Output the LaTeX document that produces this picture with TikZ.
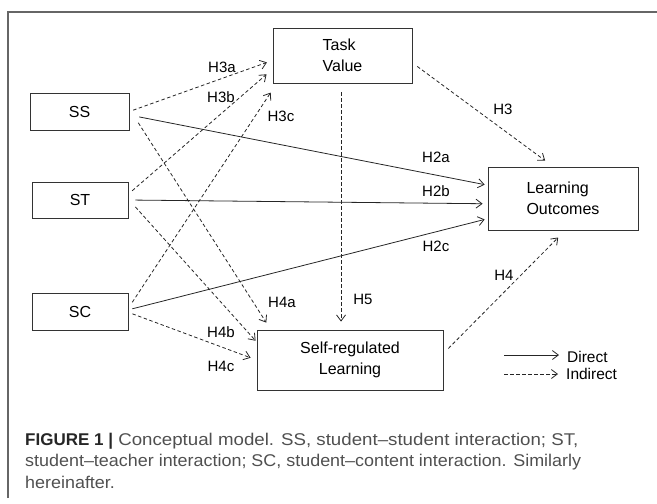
\documentclass[tikz,border=0pt]{standalone}
\usepackage{fontspec}
\setmainfont{Liberation Sans}
\newfontfamily\capfont[FakeStretch=1.1]{Liberation Sans}
\newfontfamily\capfontn[FakeStretch=1.055]{Liberation Sans}
\usetikzlibrary{arrows.meta}
\definecolor{capgray}{HTML}{505050}
\tikzset{
  blk/.style={draw=black!80, line width=0.8pt, fill=white, inner sep=0pt, font=\fontsize{16}{21}\selectfont},
  dir/.style={draw=black!85, line width=0.8pt, -{Straight Barb[length=6pt,width=9pt]}},
  ind/.style={dir, dash pattern=on 3.5pt off 2.5pt},
  hyp/.style={inner sep=0pt, font=\fontsize{15}{18}\selectfont},
}
\begin{document}
\begin{tikzpicture}[x=1pt, y=-1pt]
  \useasboundingbox (0,0) rectangle (657,504);
  % Frame:
  \draw[black!60, line width=1.2pt] (8,498) -- (8,12) -- (657,12);
  % Blocks:
  \node[blk, minimum width=99pt, minimum height=37pt] (ss) at (79.5,111.5) {SS};
  \node[blk, minimum width=96pt, minimum height=36pt] (st) at (80,200) {ST};
  \node[blk, minimum width=96pt, minimum height=37pt] (sc) at (80,311.5) {SC};
  \node[blk, minimum width=139pt, minimum height=55pt, align=left] (tv) at (342.5,55.5) {Task\\Value};
  \node[blk, minimum width=150pt, minimum height=63pt, align=left] (lo) at (563,198.5) {Learning\\Outcomes};
  \node[blk, minimum width=186pt, minimum height=60pt, align=center] (srl) at (350,360) {Self-regulated\\Learning};
  % Direct paths:
  \draw[dir, shorten <=10pt, shorten >=3pt] (ss.-4) -- (lo.170);
  \draw[dir, shorten <=7pt, shorten >=5pt] (st.east) -- (lo.184);
  \draw[dir, shorten <=4pt, shorten >=3pt] (sc.2) -- (lo.195);
  % Indirect paths:
  \draw[ind, shorten <=4pt, shorten >=6pt] (ss.east) -- (tv.184);
  \draw[ind, shorten <=5pt, shorten >=8pt] (st.7) -- (tv.191);
  \draw[ind, shorten <=7pt, shorten >=11pt] (sc.4) -- (tv.203);
  \draw[ind, shorten <=16.5pt, shorten >=8.3pt] (ss.3) -- (srl.159);
  \draw[ind, shorten <=10.5pt, shorten >=1.5pt] (st.1) -- (srl.169);
  \draw[ind, shorten <=4.3pt, shorten >=6.4pt] (sc.-1) -- (srl.west);
  \draw[ind, shorten <=6pt, shorten >=10pt] (tv.-6) -- (lo.107);
  \draw[ind, shorten <=9pt, shorten >=8pt] (tv.267) -- (tv.267 |- srl.north);
  \draw[ind, shorten <=7pt, shorten >=10pt] (srl.4) -- (lo.274);
  % Labels:
  \node[hyp] (h3a) at (222,67) {H3a};
  \node[hyp] (h3b) at (221,97) {H3b};
  \node[hyp] (h3c) at (281,116) {H3c};
  \node[hyp] (h3) at (503,109) {H3};
  \node[hyp] (h2a) at (436,157) {H2a};
  \node[hyp] (h2b) at (436,191) {H2b};
  \node[hyp] (h2c) at (436,246) {H2c};
  \node[hyp] (h4) at (504,275) {H4};
  \node[hyp] (h5) at (363,299) {H5};
  \node[hyp] (h4a) at (282,302) {H4a};
  \node[hyp] (h4b) at (221,332) {H4b};
  \node[hyp] (h4c) at (221,366) {H4c};
  % Legend:
  \coordinate (ldir) at (504,355);
  \coordinate (lind) at (504,374);
  \node[hyp, anchor=west, font=\fontsize{15.5}{18}\selectfont] (tdir) at (567,357) {Direct};
  \node[hyp, anchor=west, font=\fontsize{15.5}{18}\selectfont] (tind) at (566,374) {Indirect};
  \draw[dir, shorten >=8pt] (ldir) -- (ldir -| tdir.west);
  \draw[ind, shorten >=8pt] (lind) -- (lind -| tind.west);
  % Caption:
  \node[anchor=north west, inner sep=0pt, align=left, text=capgray, font=\capfont\fontsize{17}{21.5}\selectfont] (cap) at (25,432.5)
    {{\normalfont\bfseries\color{black!85}FIGURE 1 |} Conceptual model. SS, student–student interaction; ST,\\
     {\capfontn student–teacher interaction; SC, student–content interaction. Similarly}\\
     {\capfontn hereinafter.}};
\end{tikzpicture}
\end{document}
